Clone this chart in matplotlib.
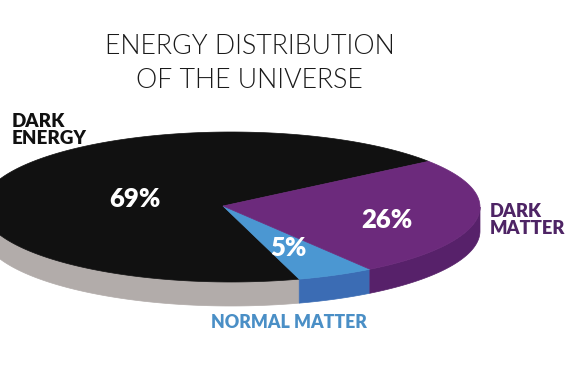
import numpy as np
import matplotlib
matplotlib.use("Agg")
import matplotlib.pyplot as plt
from matplotlib.patches import Polygon

# ---- data ----
labels = ["DARK\nENERGY", "NORMAL MATTER", "DARK\nMATTER"]
values = [69, 5, 26]
pct_labels = ["69%", "5%", "26%"]
title_lines = ["ENERGY DISTRIBUTION", "OF THE UNIVERSE"]

# ---- style ----
top_colors = ["#111111", "#4b97d2", "#6c2a7c"]
side_colors = ["#b2acaa", "#3b6cb4", "#57216a"]
label_colors = ["#111111", "#4a8fc6", "#4e2465"]

W, H = 568, 373
fig = plt.figure(figsize=(W / 100, H / 100), dpi=100)
ax = fig.add_axes([0, 0, 1, 1])
ax.set_xlim(0, W)
ax.set_ylim(H, 0)
ax.axis("off")

# ellipse geometry (pixels), apex slightly off-centre for perspective
cx, cy, a, b, depth = 231, 207, 249, 75, 24
apex_x, apex_y = 223, 206
start = 37.5

def pt(theta_deg):
    t = np.radians(theta_deg)
    return cx + a * np.cos(t), cy - b * np.sin(t)

fr = np.array(values, dtype=float) / sum(values)
edges = start + 360 * np.concatenate([[0], np.cumsum(fr)])

# sides (front half only)
for i in range(len(values)):
    t1, t2 = edges[i], edges[i + 1]
    for lo, hi in [(180, 360), (540, 720)]:
        s, e = max(t1, lo), min(t2, hi)
        if e > s:
            th = np.linspace(s, e, 100)
            xs, ys = pt(th)
            poly = np.column_stack([np.concatenate([xs, xs[::-1]]),
                                    np.concatenate([ys, ys[::-1] + depth])])
            ax.add_patch(Polygon(poly, closed=True, facecolor=side_colors[i],
                                 edgecolor=side_colors[i], lw=0.5, zorder=1))

# tops
for i in range(len(values)):
    th = np.linspace(edges[i], edges[i + 1], 300)
    xs, ys = pt(th)
    poly = np.column_stack([np.concatenate([[apex_x], xs]),
                            np.concatenate([[apex_y], ys])])
    ax.add_patch(Polygon(poly, closed=True, facecolor=top_colors[i],
                         edgecolor=top_colors[i], lw=0.5, zorder=2))

bold = dict(family=["Lato", "DejaVu Sans"], fontweight=800)

# percentage labels
pct_pos = [(135, 199), (288, 248), (387, 220)]
for (x, y), t in zip(pct_pos, pct_labels):
    ax.text(x, y, t, color="white", fontsize=18.5, ha="center", va="center",
            zorder=5, **bold)

# category labels
ax.text(12, 130, labels[0], color=label_colors[0], fontsize=13.5, ha="left",
        va="center", linespacing=0.95, **bold)
ax.text(289, 323, labels[1], color=label_colors[1], fontsize=12.8, ha="center",
        va="center", **bold)
ax.text(490, 220, labels[2], color=label_colors[2], fontsize=13.2, ha="left",
        va="center", linespacing=1.05, **bold)

# title
ax.text(250, 47, title_lines[0], fontsize=19.3, ha="center", va="center",
        color="#1a1a1a", family=["Lato", "DejaVu Sans"], fontweight=300)
ax.text(249, 80, title_lines[1], fontsize=19.3, ha="center", va="center",
        color="#1a1a1a", family=["Lato", "DejaVu Sans"], fontweight=300)

fig.savefig("out.png", dpi=100, facecolor="white")
